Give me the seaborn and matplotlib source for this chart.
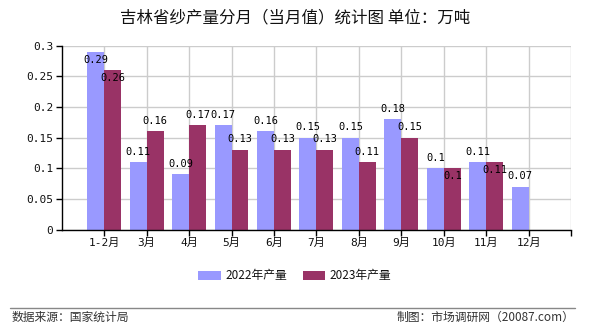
import matplotlib
matplotlib.use("Agg")
import matplotlib.pyplot as plt
import seaborn as sns
import pandas as pd
import numpy as np

months = ["1-2月", "3月", "4月", "5月", "6月", "7月", "8月", "9月", "10月", "11月", "12月"]
vals_2022 = [0.29, 0.11, 0.09, 0.17, 0.16, 0.15, 0.15, 0.18, 0.1, 0.11, 0.07]
vals_2023 = [0.26, 0.16, 0.17, 0.13, 0.13, 0.13, 0.11, 0.15, 0.1, 0.11, np.nan]
series = ["2022年产量", "2023年产量"]
colors = ["#9999FF", "#993366"]
yticks = [0, 0.05, 0.1, 0.15, 0.2, 0.25, 0.3]
ytick_labels = ["0", "0.05", "0.1", "0.15", "0.2", "0.25", "0.3"]
title = "吉林省纱产量分月（当月值）统计图 单位：万吨"
source = "数据来源：国家统计局"
credit = "制图：市场调研网（20087.com）"

sns.set_theme(style="white")
plt.rcParams["font.family"] = ["Noto Sans CJK SC", "DejaVu Sans"]

df = pd.DataFrame({
    "month": months * 2,
    "value": vals_2022 + vals_2023,
    "series": [series[0]] * len(months) + [series[1]] * len(months),
})

fig = plt.figure(figsize=(5.9, 3.3), dpi=100)
ax = fig.add_axes([0.1046, 0.3045, 0.968 - 0.1046, 0.8615 - 0.3045])

sns.barplot(data=df, x="month", y="value", hue="series", palette=colors,
            order=months, hue_order=series, width=0.8, saturation=1,
            linewidth=0, edgecolor="none", ax=ax, legend=True, zorder=3)

ax.set_xlim(-1, len(months))
ax.set_ylim(0, 0.3)
ax.set_yticks(yticks)
ax.set_yticklabels(ytick_labels)
ax.set_xticks(range(len(months)))
ax.set_xticks([len(months)], minor=True)
ax.set_xticklabels(months)
ax.set_xlabel("")
ax.set_ylabel("")

for s in ["top", "right"]:
    ax.spines[s].set_visible(False)
for s in ["left", "bottom"]:
    ax.spines[s].set_color("black")
    ax.spines[s].set_linewidth(1)
    ax.spines[s].set_zorder(5)

ax.grid(True, which="both", color="#cccccc", linewidth=1, zorder=0)
ax.set_axisbelow(True)
ax.tick_params(axis="both", which="both", direction="out", length=4, width=1,
               color="black", pad=2, bottom=True, left=True)
mono = ["DejaVu Sans Mono", "Noto Sans CJK SC"]
for lab in ax.get_yticklabels():
    lab.set_fontfamily(mono)
    lab.set_fontsize(8)
    lab.set_color("#111111")
for lab in ax.get_xticklabels():
    lab.set_fontfamily(mono)
    lab.set_fontsize(8)
    lab.set_color("#111111")

# value labels
def fmt(v):
    return ("%.2f" % v).rstrip("0")

for ci, cont in enumerate(ax.containers):
    for i, bar in enumerate(cont):
        v = bar.get_height()
        if v is None or np.isnan(v):
            continue
        x = bar.get_x() + bar.get_width() / 2
        inside = v + 0.045 > 0.3
        if ci == 1 and abs(vals_2022[i] - v) < 0.015:
            inside = True
        if inside:
            ax.annotate(fmt(v), (x, v), xytext=(0, -2), textcoords="offset points",
                        ha="center", va="top", fontsize=7.5, family=mono,
                        color="black", zorder=6)
        else:
            ax.annotate(fmt(v), (x, v), xytext=(0, 4), textcoords="offset points",
                        ha="center", va="bottom", fontsize=7.5, family=mono,
                        color="black", zorder=6)

leg = ax.legend(loc="center", bbox_to_anchor=(0.5, 1 - 276 / 330), bbox_transform=fig.transFigure,
                ncol=2, frameon=False, fontsize=8.5, handlelength=1.9, handleheight=0.85,
                columnspacing=1.3, handletextpad=0.4)
for t in leg.get_texts():
    t.set_color("#111111")

fig.text(0.5, 1 - 18 / 330, title, ha="center", va="center", fontsize=11.9,
         color="#111111", fontweight="medium")

fig.add_artist(plt.Line2D([10 / 590, 575 / 590], [1 - 308 / 330, 1 - 308 / 330],
                          color="#888888", linewidth=1, transform=fig.transFigure))
fig.text(12 / 590, 1 - 317 / 330, source, ha="left", va="center", fontsize=8.5, color="#333333")
fig.text(574 / 590, 1 - 317 / 330, credit, ha="right", va="center", fontsize=8.5, color="#333333")

fig.savefig("out.png", dpi=100)
